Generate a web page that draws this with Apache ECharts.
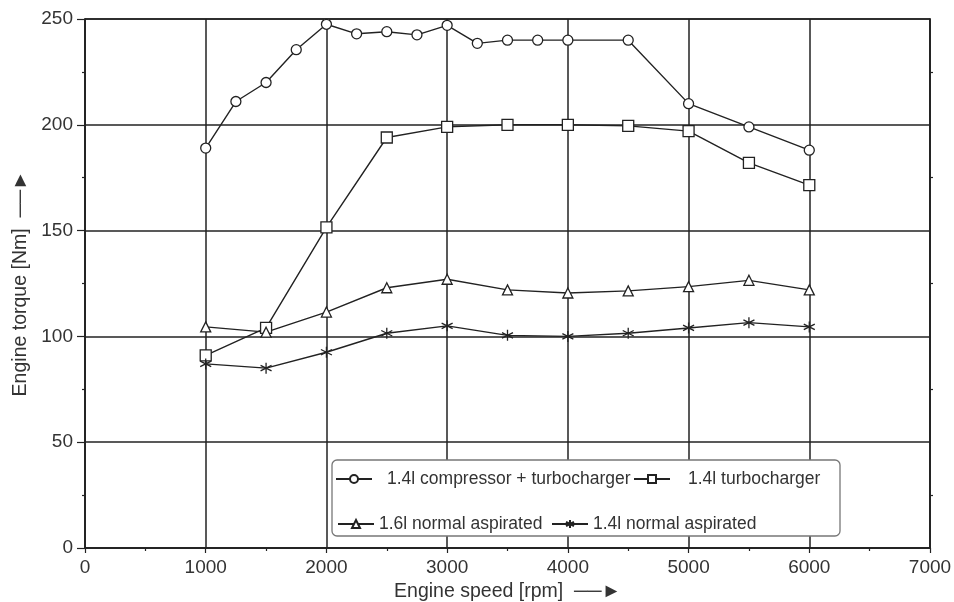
<!DOCTYPE html>
<html>
<head>
<meta charset="utf-8">
<script src="https://cdn.jsdelivr.net/npm/echarts@6/dist/echarts.min.js"></script>
<style>html,body{margin:0;padding:0;background:#fff}#c{width:954px;height:602px}</style>
</head>
<body>
<div id="c"></div>
<script>
// Data
const rpmA = [1000,1250,1500,1750,2000,2250,2500,2750,3000,3250,3500,3750,4000,4500,5000,5500,6000];
const torqueCompTurbo = [189,211,220,235.5,247.5,243,244,242.5,247,238.5,240,240,240,240,210,199,188];
const rpmB = [1000,1500,2000,2500,3000,3500,4000,4500,5000,5500,6000];
const torqueTurbo = [91,104,151.5,194,199,200,200,199.5,197,182,171.5];
const torque16NA = [104.5,102,111.5,123,127,122,120.5,121.5,123.5,126.5,122];
const torque14NA = [87,85,92.5,101.5,105,100.5,100,101.5,104,106.5,104.5];
const seriesNames = ['1.4l compressor + turbocharger','1.4l turbocharger','1.6l normal aspirated','1.4l normal aspirated'];
const xTicks = [0,1000,2000,3000,4000,5000,6000,7000];
const yTicks = [0,50,100,150,200,250];

const FONT = '"Liberation Sans", Arial, sans-serif';
const INK = '#222';
const TXT = '#333';
const pairs = (xs, ys) => xs.map((x, i) => [x, ys[i]]);
const starPath = 'path://M5 0L5 10M0.7 2.5L9.3 7.5M0.7 7.5L9.3 2.5';

function mkSeries(name, data, symbol, size) {
  return {
    name, type: 'line', data, symbol, symbolSize: size,
    lineStyle: { color: INK, width: 1.4 },
    itemStyle: { color: '#fff', borderColor: INK, borderWidth: 1.3 },
    emphasis: { disabled: true },
    z: 5
  };
}
const chart = echarts.init(document.getElementById('c'), null, { renderer: 'canvas' });
const legendText = (pad) => ({ fontFamily: FONT, fontSize: 17.5, color: TXT, padding: [0, 0, 0, pad] });
const legendBase = {
  orient: 'horizontal', itemWidth: 36, itemHeight: 10, itemGap: 0,
  selectedMode: false, z: 10
};
chart.setOption({
  animation: false,
  backgroundColor: '#fff',
  grid: { left: 85, right: 24, top: 19, bottom: 54, show: true, borderColor: INK, borderWidth: 1.5,
          containLabel: false, outerBoundsMode: 'none' },
  xAxis: {
    type: 'value', min: xTicks[0], max: xTicks[xTicks.length - 1], interval: 1000,
    name: 'Engine speed [rpm]  \u2500\u2500\u25BA', nameLocation: 'middle', nameGap: 28,
    nameTextStyle: { fontFamily: FONT, fontSize: 19.5, color: TXT },
    axisLine: { show: true, lineStyle: { color: INK, width: 1.5 } },
    axisTick: { show: true, length: 5, lineStyle: { color: INK, width: 1.2 } },
    minorTick: { show: true, splitNumber: 2, length: 3, lineStyle: { color: INK, width: 1.2 } },
    axisLabel: { fontFamily: FONT, fontSize: 19, color: TXT, margin: 10, formatter: (v) => String(v) },
    splitLine: { show: true, lineStyle: { color: INK, width: 1.5 } }
  },
  yAxis: [{
    type: 'value', min: yTicks[0], max: yTicks[yTicks.length - 1], interval: 50,
    name: 'Engine torque [Nm]  \u2500\u2500\u25BA', nameLocation: 'middle', nameGap: 54,
    nameTextStyle: { fontFamily: FONT, fontSize: 19.5, color: TXT },
    axisLine: { show: true, lineStyle: { color: INK, width: 1.5 } },
    axisTick: { show: true, length: 8, lineStyle: { color: INK, width: 1.2 } },
    minorTick: { show: true, splitNumber: 2, length: 3, lineStyle: { color: INK, width: 1.2 } },
    axisLabel: { fontFamily: FONT, fontSize: 19, color: TXT, margin: 12 },
    splitLine: { show: true, lineStyle: { color: INK, width: 1.5 } }
  }, {
    type: 'value', position: 'right', min: yTicks[0], max: yTicks[yTicks.length - 1], interval: 50,
    axisLine: { show: true, lineStyle: { color: INK, width: 1.5 } },
    axisTick: { show: false },
    minorTick: { show: true, splitNumber: 2, length: 3, lineStyle: { color: INK, width: 1.2 } },
    axisLabel: { show: false },
    splitLine: { show: false }
  }],
  legend: [
    Object.assign({}, legendBase, { data: [seriesNames[0]], left: 330, top: 465, textStyle: legendText(10) }),
    Object.assign({}, legendBase, { data: [seriesNames[1]], left: 628, top: 465, textStyle: legendText(13) }),
    Object.assign({}, legendBase, { data: [seriesNames[2]], left: 332, top: 510, textStyle: legendText(0) }),
    Object.assign({}, legendBase, { data: [seriesNames[3]], left: 546, top: 510, textStyle: legendText(0) })
  ],
  graphic: [{
    type: 'rect', z: 3, silent: true,
    shape: { x: 332, y: 460, width: 508, height: 76, r: 5 },
    style: { fill: '#fff', stroke: '#777', lineWidth: 1.3 }
  }],
  series: [
    mkSeries(seriesNames[0], pairs(rpmA, torqueCompTurbo), 'circle', 10),
    mkSeries(seriesNames[1], pairs(rpmB, torqueTurbo), 'rect', 11),
    mkSeries(seriesNames[2], pairs(rpmB, torque16NA), 'triangle', 10),
    mkSeries(seriesNames[3], pairs(rpmB, torque14NA), starPath, 11)
  ]
});
</script>
</body>
</html>
